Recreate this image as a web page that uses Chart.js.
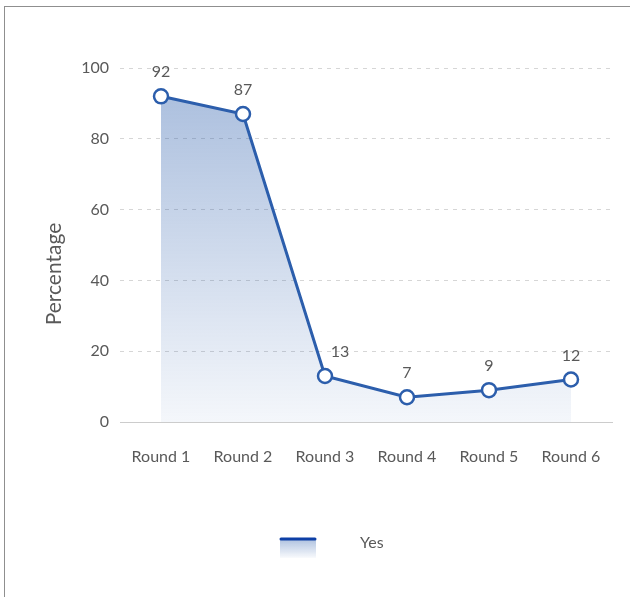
<!DOCTYPE html>
<html>
<head>
<meta charset="utf-8">
<script src="https://cdn.jsdelivr.net/npm/chart.js@4"></script>
<style>
  html, body { margin: 0; padding: 0; background: #fff; overflow: hidden; }
  #frame { position: absolute; left: 4px; top: 6px; width: 800px; height: 800px; border: 1px solid #8f8f8f; box-sizing: border-box; }
  #wrap { position: absolute; left: 0; top: 0; width: 630px; height: 597px; }
</style>
</head>
<body>
<div id="frame"></div>
<div id="wrap"><canvas id="c" width="630" height="597"></canvas></div>
<script>
const categories = ['Round 1', 'Round 2', 'Round 3', 'Round 4', 'Round 5', 'Round 6'];
const yesValues = [92, 87, 13, 7, 9, 12];
const seriesName = 'Yes';
const yAxisTitle = 'Percentage';

const LINE = '#2c5eac';
const FONT = 'Lato, "Open Sans", sans-serif';
const TEXT = '#595959';

const valueLabels = {
  id: 'valueLabels',
  afterDatasetsDraw(chart) {
    const ctx = chart.ctx;
    const meta = chart.getDatasetMeta(0);
    const data = chart.data.datasets[0].data;
    ctx.save();
    ctx.font = '16px ' + FONT;
    ctx.fillStyle = TEXT;
    ctx.textAlign = 'center';
    ctx.textBaseline = 'middle';
    meta.data.forEach((pt, i) => {
      let dx = 0;
      if (i > 0 && data[i - 1] - data[i] > 30) dx = 15;
      ctx.fillText(String(data[i]), pt.x + dx, pt.y - 24);
    });
    ctx.restore();
  }
};

const customDecor = {
  id: 'customDecor',
  afterDraw(chart) {
    const ctx = chart.ctx;
    ctx.save();
    // y-axis title
    ctx.translate(54, 274);
    ctx.rotate(-Math.PI / 2);
    ctx.font = '21px ' + FONT;
    ctx.fillStyle = TEXT;
    ctx.textAlign = 'center';
    ctx.textBaseline = 'middle';
    ctx.fillText(yAxisTitle, 0, 0);
    ctx.restore();

    // legend
    const x = 280, y = 538, w = 36, h = 20;
    ctx.save();
    const g = ctx.createLinearGradient(0, y, 0, y + h);
    g.addColorStop(0, 'rgba(44,94,172,0.40)');
    g.addColorStop(1, 'rgba(44,94,172,0.03)');
    ctx.fillStyle = g;
    ctx.fillRect(x, y, w, h);
    ctx.strokeStyle = '#0d3fa6';
    ctx.lineWidth = 3;
    ctx.lineCap = 'round';
    ctx.beginPath();
    ctx.moveTo(x + 1, y + 1);
    ctx.lineTo(x + w - 1, y + 1);
    ctx.stroke();
    ctx.font = '16px ' + FONT;
    ctx.fillStyle = TEXT;
    ctx.textAlign = 'left';
    ctx.textBaseline = 'middle';
    ctx.fillText(seriesName, 360, 543);
    ctx.restore();
  }
};

new Chart(document.getElementById('c'), {
  type: 'line',
  data: {
    labels: categories,
    datasets: [{
      label: seriesName,
      data: yesValues,
      borderColor: LINE,
      borderWidth: 3,
      tension: 0,
      fill: 'origin',
      backgroundColor(context) {
        const ca = context.chart.chartArea;
        if (!ca) return 'rgba(44,94,172,0.3)';
        const g = context.chart.ctx.createLinearGradient(0, ca.top, 0, ca.bottom);
        g.addColorStop(0, 'rgba(44,94,172,0.42)');
        g.addColorStop(1, 'rgba(44,94,172,0.05)');
        return g;
      },
      pointRadius: 7,
      pointHoverRadius: 7,
      pointBackgroundColor: '#ffffff',
      pointBorderColor: LINE,
      pointBorderWidth: 2.5
    }]
  },
  options: {
    responsive: false,
    animation: false,
    devicePixelRatio: 1,
    layout: { padding: { left: 40, right: 18, top: 68, bottom: 0 } },
    plugins: {
      legend: { display: false },
      tooltip: { enabled: false }
    },
    scales: {
      x: {
        offset: true,
        grid: { display: false, drawTicks: false },
        border: { display: true, color: '#cccccc', width: 1 },
        ticks: { color: TEXT, font: { family: FONT, size: 16 }, padding: 25, maxRotation: 0 },
        afterFit(scale) { scale.height = 175; }
      },
      y: {
        min: 0,
        max: 100,
        ticks: { stepSize: 20, color: TEXT, font: { family: FONT, size: 16 }, padding: 11 },
        grid: {
          drawTicks: false,
          color(ctx) { return ctx.tick && ctx.tick.value === 0 ? 'rgba(0,0,0,0)' : '#d6d6d6'; },
          lineWidth: 1
        },
        border: { display: false, dash: [4, 5] },
        afterFit(scale) { scale.width = 80; }
      }
    }
  },
  plugins: [valueLabels, customDecor]
});
</script>
</body>
</html>
